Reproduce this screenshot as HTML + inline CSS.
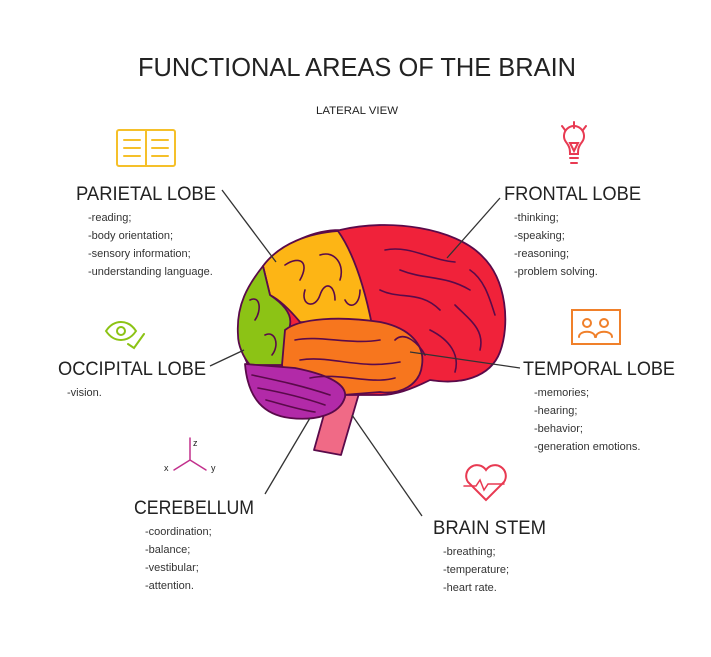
<!DOCTYPE html>
<html><head><meta charset="utf-8"><style>
html,body{margin:0;padding:0;background:#fff}
svg{display:block}
text{font-family:"Liberation Sans",sans-serif;fill:#222}
.h{font-size:19px}
.b{font-size:11px;fill:#333}
</style></head><body>
<svg width="711" height="657" viewBox="0 0 711 657">
<text x="357" y="76" text-anchor="middle" font-size="26" textLength="438" lengthAdjust="spacingAndGlyphs">FUNCTIONAL AREAS OF THE BRAIN</text>
<text x="357" y="114" text-anchor="middle" font-size="11" textLength="82" lengthAdjust="spacingAndGlyphs">LATERAL VIEW</text>

<!-- brain -->
<g stroke="#5a0a4a" stroke-width="1.8" stroke-linejoin="round">
<polygon points="330,393 360,390 341,455 314,450" fill="#f06a86"/>
<path d="M240,335 C235,300 255,275 272,262 C285,242 315,230 340,230 C390,218 455,228 482,256 C507,280 510,325 500,352 C490,378 460,385 430,380 C410,390 395,395 380,395 L300,395 C270,395 245,380 240,335 Z" fill="#f0223a"/>
<path d="M263,266 C280,243 310,233 338,231 C355,255 365,290 372,325 L300,322 C290,310 280,300 270,295 Z" fill="#fdb515"/>
<path d="M238,335 C236,305 248,285 263,266 L270,295 C285,305 292,315 290,325 L285,365 L250,365 C243,357 238,345 238,335 Z" fill="#8cc315"/>
<path d="M285,330 C300,318 340,316 380,322 C410,328 425,345 422,365 C420,385 400,395 380,392 L330,396 C300,392 285,380 282,365 Z" fill="#f7761e"/>
<path d="M245,364 L295,368 C330,375 347,385 345,397 C340,415 315,421 290,418 C265,415 248,400 245,364 Z" fill="#b22aa8"/>
</g>
<g stroke="#5a0a4a" stroke-width="1.6" fill="none" stroke-linecap="round">
<path d="M385,250 C410,245 430,260 455,262 M400,270 C425,280 445,275 470,290 M380,290 C400,300 420,290 440,310 M455,305 C470,320 485,330 480,350 M430,330 C450,340 460,355 455,372 M395,340 C405,330 420,345 425,355 M470,270 C485,280 490,300 495,315"/>
<path d="M285,265 C300,255 310,262 300,280 M305,290 C300,305 315,310 320,295 C325,280 335,285 335,300 M320,255 C335,250 345,265 340,280 M345,300 C350,310 360,305 360,290"/>
<path d="M250,300 C260,295 262,310 255,320 M265,335 C275,330 280,345 272,355"/>
<path d="M295,340 C320,335 350,345 380,340 M300,360 C330,355 360,370 400,362 M310,378 C340,372 370,385 395,378"/>
<path d="M252,375 C275,380 300,385 330,395 M258,388 C280,392 305,398 325,405 M266,400 C285,405 300,410 315,412"/>
</g>

<!-- connectors -->
<g stroke="#333" stroke-width="1.3" fill="none">
<line x1="222" y1="190" x2="276" y2="262"/>
<line x1="500" y1="198" x2="447" y2="258"/>
<line x1="210" y1="366" x2="244" y2="350"/>
<line x1="520" y1="368" x2="410" y2="352"/>
<line x1="265" y1="494" x2="310" y2="418"/>
<line x1="422" y1="516" x2="352" y2="415"/>
</g>

<!-- icons -->
<g fill="none" stroke-width="2" stroke-linecap="round">
<g stroke="#f5c02a"><rect x="117" y="130" width="58" height="36" rx="2"/><line x1="146" y1="130" x2="146" y2="166"/><path d="M124,140h16M124,148h16M124,156h16M152,140h16M152,148h16M152,156h16"/></g>
<g stroke="#e83a52"><path d="M566,142 a10,10 0 1,1 16,0 c-4,5-4,8-4,12 h-8 c0,-4 0,-7 -4,-12 z"/><path d="M570,158h8M571,163h6M574,122v6M562,126l3,4M586,126l-3,4M570,143l4,8 4,-8z"/></g>
<g stroke="#8cc315"><path d="M106,331 c8,-12 22,-12 30,0 c-8,12 -22,12 -30,0z"/><circle cx="121" cy="331" r="4"/><path d="M128,344 l6,4 l10,-14"/></g>
<g stroke="#f0802a"><rect x="572" y="310" width="48" height="34"/><circle cx="587" cy="323" r="4"/><circle cx="604" cy="323" r="4"/><path d="M579,337 c0,-7 16,-7 16,0M596,337 c0,-7 16,-7 16,0"/></g>
<g stroke="#c2308c" stroke-width="1.5"><path d="M190,438v22M190,460l-16,10M190,460l16,10"/></g>
<g stroke="#e83a52"><path d="M486,500 l-18,-18 a9,9 0 1,1 18,-12 a9,9 0 1,1 18,12 z"/><path d="M464,486h12l4,-6 4,10 4,-6h16" stroke-width="1.5"/></g>
</g>
<text x="193" y="446" font-size="9" fill="#c2308c">z</text>
<text x="164" y="471" font-size="9" fill="#c2308c">x</text>
<text x="211" y="471" font-size="9" fill="#c2308c">y</text>

<!-- labels -->
<text class="h" x="76" y="200" textLength="140" lengthAdjust="spacingAndGlyphs">PARIETAL LOBE</text>
<text class="b" x="88" y="221">-reading;</text>
<text class="b" x="88" y="239">-body orientation;</text>
<text class="b" x="88" y="257">-sensory information;</text>
<text class="b" x="88" y="275">-understanding language.</text>

<text class="h" x="504" y="200" textLength="137" lengthAdjust="spacingAndGlyphs">FRONTAL LOBE</text>
<text class="b" x="514" y="221">-thinking;</text>
<text class="b" x="514" y="239">-speaking;</text>
<text class="b" x="514" y="257">-reasoning;</text>
<text class="b" x="514" y="275">-problem solving.</text>

<text class="h" x="58" y="375" textLength="148" lengthAdjust="spacingAndGlyphs">OCCIPITAL LOBE</text>
<text class="b" x="67" y="396">-vision.</text>

<text class="h" x="523" y="375" textLength="152" lengthAdjust="spacingAndGlyphs">TEMPORAL LOBE</text>
<text class="b" x="534" y="396">-memories;</text>
<text class="b" x="534" y="414">-hearing;</text>
<text class="b" x="534" y="432">-behavior;</text>
<text class="b" x="534" y="450">-generation emotions.</text>

<text class="h" x="134" y="514" textLength="120" lengthAdjust="spacingAndGlyphs">CEREBELLUM</text>
<text class="b" x="145" y="535">-coordination;</text>
<text class="b" x="145" y="553">-balance;</text>
<text class="b" x="145" y="571">-vestibular;</text>
<text class="b" x="145" y="589">-attention.</text>

<text class="h" x="433" y="534" textLength="113" lengthAdjust="spacingAndGlyphs">BRAIN STEM</text>
<text class="b" x="443" y="555">-breathing;</text>
<text class="b" x="443" y="573">-temperature;</text>
<text class="b" x="443" y="591">-heart rate.</text>
</svg>
</body></html>
